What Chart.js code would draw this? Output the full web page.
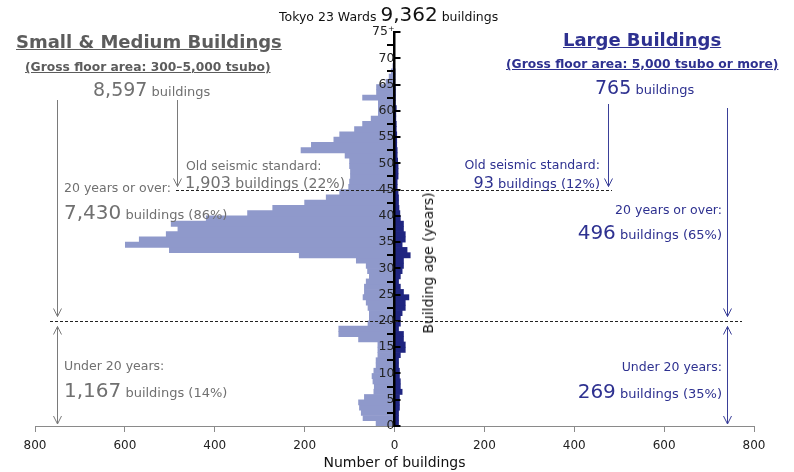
<!DOCTYPE html>
<html>
<head>
<meta charset="utf-8">
<script src="https://cdn.jsdelivr.net/npm/chart.js@4.4.0/dist/chart.umd.min.js"></script>
<style>
body { margin: 0; background: #fff; font-family: "DejaVu Sans", Verdana, sans-serif; }
#wrap { position: relative; width: 794px; height: 472px; }
#c { position: absolute; left: 0; top: 0; }
.t { position: absolute; white-space: nowrap; line-height: 1; font-size: 12.5px; }
.g { color: #707070; }
.n { color: #2e3190; }
.big { font-size: 19px; }
.ttl { font-weight: bold; font-size: 18px; text-decoration: underline; }
.sub { font-weight: bold; font-size: 12.3px; text-decoration: underline; }
</style>
</head>
<body>
<div id="wrap">
<canvas id="c" width="794" height="472"></canvas>

<div class="t" style="left:279px;top:4px;color:#111;font-size:12.5px">Tokyo 23 Wards <span class="big" style="font-size:20px">9,362</span> buildings</div>

<div class="t g ttl" style="left:16px;top:33px;color:#5c5c5c">Small &amp; Medium Buildings</div>
<div class="t g sub" style="left:25px;top:61px;color:#5c5c5c">(Gross floor area: 300–5,000 tsubo)</div>
<div class="t g" style="left:93px;top:80px;font-size:13px"><span class="big">8,597</span> buildings</div>

<div class="t n ttl" style="left:563px;top:31px">Large Buildings</div>
<div class="t n sub" style="left:506px;top:58px">(Gross floor area: 5,000 tsubo or more)</div>
<div class="t n" style="left:595px;top:78px;font-size:13px"><span class="big">765</span> buildings</div>

<div class="t g" style="left:186px;top:160px">Old seismic standard:</div>
<div class="t g" style="left:185px;top:175px;font-size:14px"><span style="font-size:16px">1,903</span> buildings (22%)</div>
<div class="t g" style="left:64px;top:182px">20 years or over:</div>
<div class="t g" style="left:64px;top:202px;font-size:13px"><span class="big" style="font-size:20px">7,430</span> buildings (86%)</div>
<div class="t g" style="left:64px;top:360px">Under 20 years:</div>
<div class="t g" style="left:64px;top:380px;font-size:13px"><span class="big" style="font-size:20px">1,167</span> buildings (14%)</div>

<div class="t n" style="right:194px;top:159px">Old seismic standard:</div>
<div class="t n" style="right:194px;top:175px;font-size:13px"><span style="font-size:16px">93</span> buildings (12%)</div>
<div class="t n" style="right:72px;top:204px">20 years or over:</div>
<div class="t n" style="right:72px;top:222px;font-size:13px"><span class="big" style="font-size:20px">496</span> buildings (65%)</div>
<div class="t n" style="right:72px;top:361px">Under 20 years:</div>
<div class="t n" style="right:72px;top:381px;font-size:13px"><span class="big" style="font-size:20px">269</span> buildings (35%)</div>

<div class="t" style="left:428px;top:263px;font-size:14px;color:#111;transform:translate(-50%,-50%) rotate(-90deg)">Building age (years)</div>
</div>

<script>
// building age (years) - each bar covers [age, age+1)
var ages = [0, 1, 2, 3, 4, 5, 6, 7, 8, 9,
	10, 11, 12, 13, 14, 15, 16, 17, 18, 19,
	20, 21, 22, 23, 24, 25, 26, 27, 28, 29,
	30, 31, 32, 33, 34, 35, 36, 37, 38, 39,
	40, 41, 42, 43, 44, 45, 46, 47, 48, 49,
	50, 51, 52, 53, 54, 55, 56, 57, 58, 59,
	60, 61, 62, 63, 64, 65, 66, 67, 68, 69];

// small & medium buildings (left side)
var smallBldg = [41, 70, 74, 78, 80, 67, 46, 45, 48, 50,
	46, 41, 41, 37, 37, 37, 80, 124, 124, 59,
	56, 56, 59, 63, 70, 67, 67, 63, 56, 60,
	63, 85, 212, 501, 599, 568, 508, 482, 497, 419,
	327, 271, 200, 152, 122, 102, 100, 98, 98, 100,
	100, 110, 208, 185, 135, 122, 89, 71, 52, 36,
	36, 36, 71, 40, 40, 19, 12, 7, 3, 0];

// large buildings (right side)
var largeBldg = [9, 9, 9, 11, 11, 11, 17, 13, 13, 11,
	11, 9, 9, 13, 24, 24, 20, 20, 9, 13,
	13, 17, 24, 24, 32, 20, 13, 9, 13, 17,
	20, 20, 35, 28, 17, 24, 24, 20, 20, 13,
	12, 10, 9, 9, 8, 6, 6, 8, 8, 8,
	7, 6, 6, 5, 5, 5, 4, 4, 3, 3,
	4, 2, 2, 2, 2, 1, 1, 1, 0, 0];

var ageTicks = [0, 5, 10, 15, 20, 25, 30, 35, 40, 45, 50, 55, 60, 65, 70, 75];

var leftColor = '#8f99cb';
var rightColor = '#1f2580';

function arrowHead(ctx, x, y, dir) {
	ctx.beginPath();
	ctx.moveTo(x - 4, y - dir * 8);
	ctx.lineTo(x, y);
	ctx.lineTo(x + 4, y - dir * 8);
	ctx.stroke();
}

function arrow(ctx, x, y1, y2, color, headTop, headBottom) {
	ctx.save();
	ctx.strokeStyle = color;
	ctx.lineWidth = 1;
	ctx.beginPath();
	ctx.moveTo(x + 0.5, y1);
	ctx.lineTo(x + 0.5, y2);
	ctx.stroke();
	if (headTop) arrowHead(ctx, x + 0.5, y1, -1);
	if (headBottom) arrowHead(ctx, x + 0.5, y2, 1);
	ctx.restore();
}

var overlay = {
	id: 'overlay',
	afterDraw: function (chart) {
		var ctx = chart.ctx;
		var xs = chart.scales.x;
		var ys = chart.scales.y;
		var x0 = xs.getPixelForValue(0);

		// tick marks on the right side of the age axis
		ctx.save();
		ctx.strokeStyle = '#000';
		ctx.lineWidth = 2;
		ageTicks.forEach(function (v) {
			var py = Math.round(ys.getPixelForValue(v));
			ctx.beginPath();
			ctx.moveTo(x0, py);
			ctx.lineTo(x0 + 6, py);
			ctx.stroke();
		});
		ctx.restore();

		var y45 = Math.round(ys.getPixelForValue(45)) + 0.5;
		var y20 = Math.round(ys.getPixelForValue(20)) + 0.5;
		var y0 = ys.getPixelForValue(0);

		// dashed lines
		ctx.save();
		ctx.strokeStyle = '#222';
		ctx.lineWidth = 1;
		ctx.setLineDash([3, 2]);
		ctx.beginPath();
		ctx.moveTo(176, y45);
		ctx.lineTo(612, y45);
		ctx.moveTo(50, y20);
		ctx.lineTo(742, y20);
		ctx.stroke();
		ctx.restore();

		// arrows
		var gray = '#7a7a7a', navy = '#3a3f98';
		arrow(ctx, 57, 100, y20 - 5, gray, false, true);
		arrow(ctx, 57, y20 + 5, y0 - 2, gray, true, true);
		arrow(ctx, 177, 100, y45 - 4, gray, false, true);
		arrow(ctx, 608, 104, y45 - 4, navy, false, true);
		arrow(ctx, 727, 108, y20 - 5, navy, false, true);
		arrow(ctx, 727, y20 + 5, y0 - 2, navy, true, true);
	}
};

var ctx = document.getElementById('c').getContext('2d');
var myChart = new Chart(ctx, {
	type: 'bar',
	data: {
		datasets: [{
			label: 'Small & Medium Buildings',
			data: ages.map(function (a, i) { return { x: -smallBldg[i], y: a + 0.5 }; }),
			backgroundColor: leftColor,
			borderWidth: 0,
			barPercentage: 1,
			categoryPercentage: 1
		}, {
			label: 'Large Buildings',
			data: ages.map(function (a, i) { return { x: largeBldg[i], y: a + 0.5 }; }),
			backgroundColor: rightColor,
			borderWidth: 0,
			barPercentage: 1,
			categoryPercentage: 1
		}]
	},
	options: {
		indexAxis: 'y',
		responsive: false,
		animation: false,
		layout: { padding: { left: 35, right: 40, top: 32, bottom: 0 } },
		plugins: { legend: { display: false }, tooltip: { enabled: false } },
		scales: {
			x: {
				type: 'linear',
				min: -800,
				max: 800,
				stacked: true,
				ticks: {
					stepSize: 200,
					color: '#222',
					font: { family: 'DejaVu Sans', size: 12 },
					padding: 7,
					callback: function (v) { return Math.abs(v); }
				},
				grid: { drawOnChartArea: false, tickLength: 6, color: '#8a8a8a' },
				border: { color: '#8a8a8a' },
				title: {
					display: true,
					text: 'Number of buildings',
					color: '#111',
					font: { family: 'DejaVu Sans', size: 14 },
					padding: { top: 0, bottom: 0 }
				},
				afterFit: function (s) { s.height = 46; }
			},
			y: {
				type: 'linear',
				min: 0,
				max: 75,
				stacked: true,
				offset: false,
				position: { x: 0 },
				ticks: {
					z: 1,
					stepSize: 5,
					color: '#222',
					font: { family: 'DejaVu Sans', size: 12.5 },
					padding: 8,
					callback: function (v) { return v === 75 ? '75\u207A' : v; }
				},
				grid: { z: 1, drawOnChartArea: false, tickLength: 6, color: '#000', lineWidth: 2 },
				border: { z: 1, color: '#000', width: 2.5 }
			}
		}
	},
	plugins: [overlay]
});
</script>
</body>
</html>
